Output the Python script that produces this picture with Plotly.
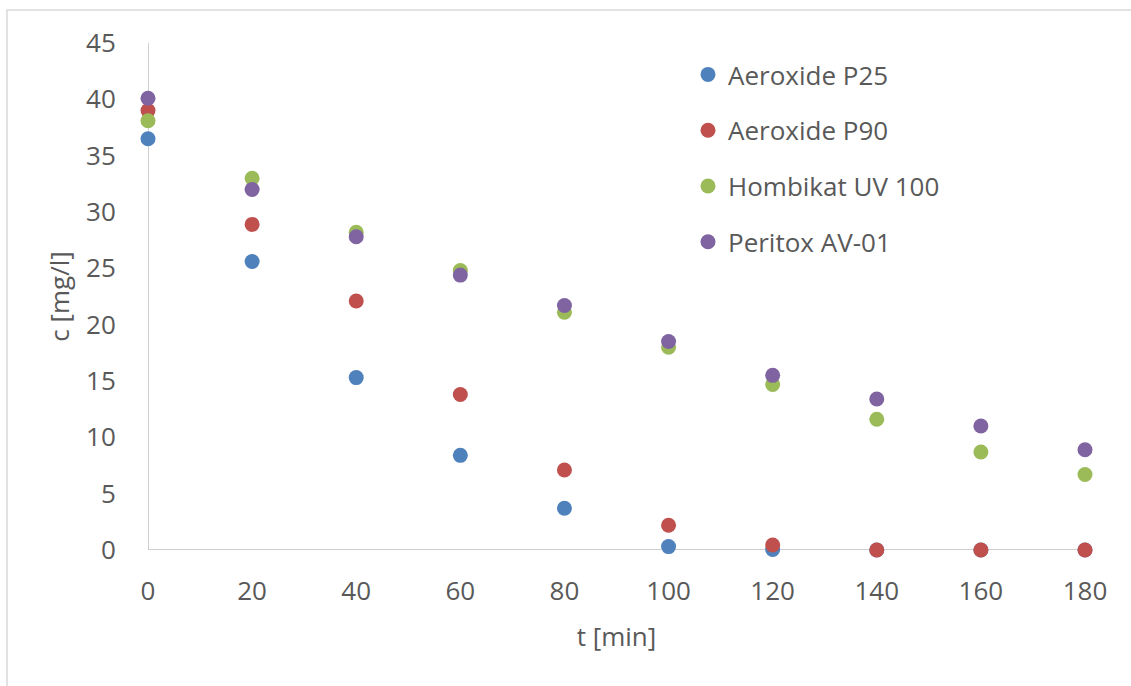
import plotly.graph_objects as go

t_min = [0, 20, 40, 60, 80, 100, 120, 140, 160, 180]
p25 = [36.5, 25.6, 15.3, 8.4, 3.7, 0.3, 0.05, 0.0, 0.0, 0.0]
p90 = [39.0, 28.9, 22.1, 13.8, 7.1, 2.2, 0.45, 0.0, 0.0, 0.0]
hombikat = [38.1, 33.0, 28.2, 24.8, 21.1, 18.0, 14.7, 11.6, 8.7, 6.7]
peritox = [40.1, 32.0, 27.8, 24.4, 21.7, 18.5, 15.5, 13.4, 11.0, 8.9]

series = [
    ("Aeroxide P25", p25, "#4F81BD"),
    ("Aeroxide P90", p90, "#C0504D"),
    ("Hombikat UV 100", hombikat, "#9BBB59"),
    ("Peritox AV-01", peritox, "#8064A2"),
]

W, H = 1131, 686
L, R, T, B = 148, 46, 43, 136
pw, ph = W - L - R, H - T - B

fig = go.Figure()
for name, vals, col in series:
    fig.add_trace(go.Scatter(
        x=t_min, y=vals, mode="markers", name=name, legendgroup=name,
        marker=dict(color=col, size=15, line=dict(width=0)),
        cliponaxis=False,
    ))

font = "Open Sans, Noto Sans, sans-serif"
txt = "#595959"
fs = 26
fig.update_layout(
    width=W, height=H,
    margin=dict(l=L, r=R, t=T, b=B),
    paper_bgcolor="white", plot_bgcolor="white",
    font=dict(family=font, size=fs, color=txt),
    showlegend=True,
    legend=dict(
        x=(688 - L) / pw, y=1 - (51 - T) / ph, xanchor="left", yanchor="top",
        font=dict(size=fs, color=txt),
        traceorder="grouped", tracegroupgap=19,
        itemsizing="trace", bgcolor="rgba(0,0,0,0)",
    ),
    xaxis=dict(
        range=[0, 180], tickvals=t_min, showgrid=False, zeroline=False,
        showline=False, ticks="outside", ticklen=18, tickcolor="rgba(0,0,0,0)",
        tickfont=dict(size=fs, color=txt),
        title=dict(text="t [min]", font=dict(size=fs, color=txt), standoff=20),
    ),
    yaxis=dict(
        range=[0, 45], tickvals=list(range(0, 46, 5)), showgrid=False,
        zeroline=False, showline=False, ticks="outside", ticklen=26,
        tickcolor="rgba(0,0,0,0)",
        tickfont=dict(size=fs, color=txt),
        title=dict(text="c [mg/l]", font=dict(size=fs, color=txt), standoff=8),
    ),
    shapes=[
        dict(type="line", xref="x", yref="y", x0=0, x1=0, y0=0, y1=45,
             line=dict(color="#BFBFBF", width=1.5), layer="below"),
        dict(type="line", xref="x", yref="y", x0=0, x1=180, y0=0, y1=0,
             line=dict(color="#BFBFBF", width=1.5), layer="below"),
        dict(type="rect", xref="paper", yref="paper",
             x0=(7 - L) / pw, x1=(W + 20 - L) / pw,
             y0=-(H + 20 - T - ph) / ph, y1=1 + (T - 10) / ph,
             line=dict(color="#D9D9D9", width=1.5), layer="below"),
    ],
)

fig.write_html("out.html")
